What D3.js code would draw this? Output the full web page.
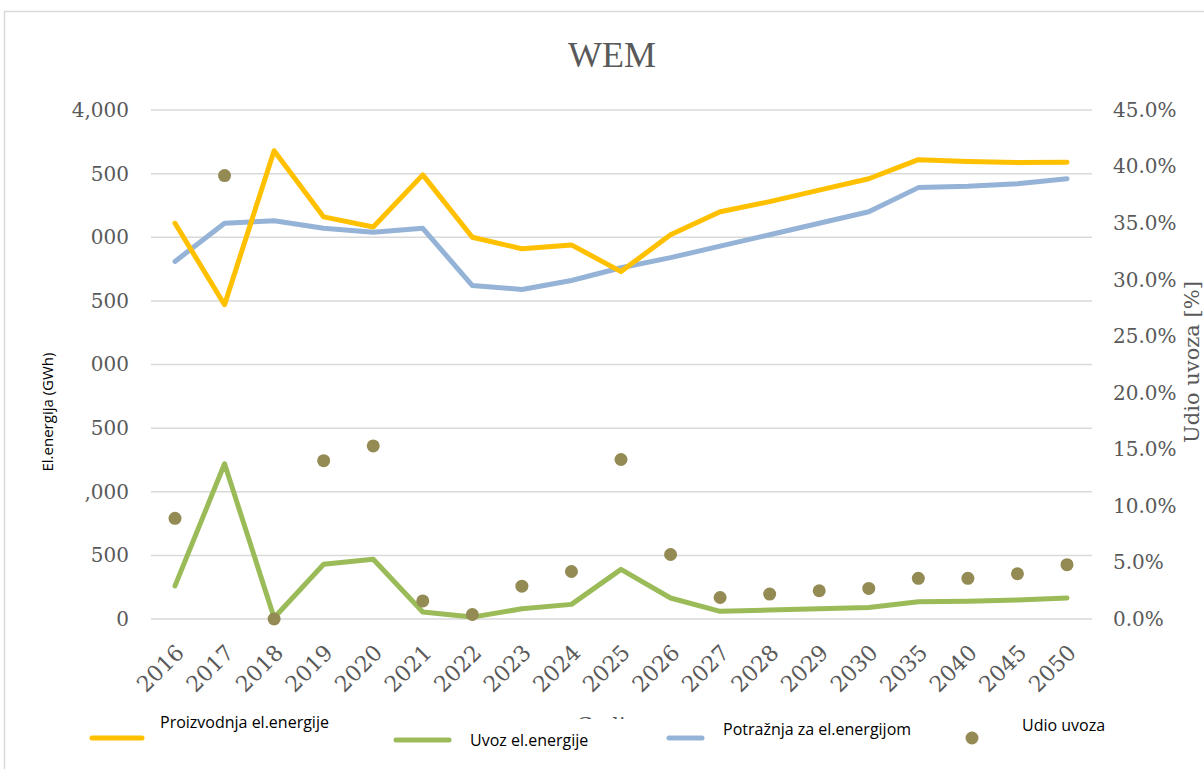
<!DOCTYPE html>
<html>
<head>
<meta charset="utf-8">
<script src="https://cdn.jsdelivr.net/npm/d3@7"></script>
<style>
  body { margin: 0; background: #ffffff; }
  svg { display: block; }
</style>
</head>
<body>
<div id="grafica"></div>
<script>
// data
var years = ["2016","2017","2018","2019","2020","2021","2022","2023","2024","2025",
             "2026","2027","2028","2029","2030","2035","2040","2045","2050"];
var proizvodnja = [3110, 2470, 3680, 3160, 3080, 3490, 3000, 2910, 2940, 2730,
                   3020, 3200, 3280, 3370, 3460, 3610, 3595, 3588, 3590];
var uvoz = [260, 1220, 10, 430, 470, 55, 15, 80, 115, 390,
            165, 60, 70, 80, 90, 135, 140, 150, 165];
var potraznja = [2810, 3110, 3130, 3070, 3040, 3070, 2620, 2590, 2660, 2760,
                 2840, 2930, 3020, 3110, 3200, 3390, 3400, 3420, 3460];
var udio = [8.9, 39.2, 0.0, 14.0, 15.3, 1.6, 0.4, 2.9, 4.2, 14.1,
            5.7, 1.9, 2.2, 2.5, 2.7, 3.6, 3.6, 4.0, 4.8];

// left tick values and the (clipped) labels as they appear
var leftTicks = [0, 500, 1000, 1500, 2000, 2500, 3000, 3500, 4000];
var leftLabels = ["0", "500", ",000", "500", "000", "500", "000", "500", "4,000"];
var rightTicks = [0, 5, 10, 15, 20, 25, 30, 35, 40, 45];

var w_full = 1204,
    h_full = 769;

var svg = d3.select("#grafica")
    .append("svg")
    .attr("width", w_full)
    .attr("height", h_full);

// outer frame
svg.append("rect")
    .attr("x", 4.5).attr("y", 11.5)
    .attr("width", w_full + 10).attr("height", h_full + 10)
    .style("fill", "#ffffff")
    .style("stroke", "#d9d9d9")
    .style("stroke-width", 1.5);

var x = d3.scalePoint()
    .domain(years)
    .range([175, 1067]);

var y = d3.scaleLinear()
    .domain([0, 4000])
    .range([619, 110]);

var y2 = d3.scaleLinear()
    .domain([0, 45])
    .range([619, 110]);

// gridlines
svg.append("g")
    .selectAll("line")
    .data(leftTicks)
    .enter()
    .append("line")
    .attr("x1", 151)
    .attr("x2", 1092)
    .attr("y1", function(d) { return y(d); })
    .attr("y2", function(d) { return y(d); })
    .attr("stroke", "#d9d9d9")
    .style("stroke-width", 1.5);

// left axis
var axL = svg.append("g")
    .attr("transform", "translate(129,0)")
    .call(d3.axisLeft(y).tickValues(leftTicks).tickSize(0).tickPadding(0)
        .tickFormat(function(d, i) { return leftLabels[i]; }));
axL.select(".domain").remove();
axL.selectAll("text")
    .style("font-family", "'DejaVu Serif', serif")
    .style("font-size", "20px")
    .style("fill", "#595959");

// right axis
var axR = svg.append("g")
    .attr("transform", "translate(1113,0)")
    .call(d3.axisRight(y2).tickValues(rightTicks).tickSize(0).tickPadding(0)
        .tickFormat(function(d) { return d.toFixed(1) + "%"; }));
axR.select(".domain").remove();
axR.selectAll("text")
    .style("font-family", "'DejaVu Serif', serif")
    .style("font-size", "20px")
    .style("fill", "#595959");

// x axis, rotated labels
var axB = svg.append("g")
    .attr("transform", "translate(0,632)")
    .call(d3.axisBottom(x).tickSize(0).tickPadding(0));
axB.select(".domain").remove();
axB.selectAll("text")
    .style("text-anchor", "end")
    .attr("dy", "0")
    .attr("transform", "translate(10,22) rotate(-45)")
    .style("font-family", "'DejaVu Serif', serif")
    .style("font-size", "22px")
    .style("fill", "#595959");

// axis titles
svg.append("text")
    .attr("transform", "translate(53,412) rotate(-90)")
    .style("text-anchor", "middle")
    .style("font-family", "'Open Sans', sans-serif")
    .style("font-size", "15px")
    .style("fill", "#000000")
    .text("El.energija (GWh)");

svg.append("text")
    .attr("transform", "translate(1199,362) rotate(-90)")
    .style("text-anchor", "middle")
    .style("font-family", "'DejaVu Serif', serif")
    .style("font-size", "21px")
    .style("fill", "#595959")
    .text("Udio uvoza [%]");

svg.append("text")
    .attr("x", 614)
    .attr("y", 732)
    .style("text-anchor", "middle")
    .style("font-family", "'DejaVu Serif', serif")
    .style("font-size", "21px")
    .style("fill", "#595959")
    .text("Godina");

// title
svg.append("text")
    .attr("x", 612)
    .attr("y", 67)
    .style("text-anchor", "middle")
    .style("font-family", "'Liberation Serif', serif")
    .style("font-size", "36px")
    .style("fill", "#595959")
    .text("WEM");

// lines
function drawLine(values, color) {
    svg.append("path")
        .datum(values)
        .attr("d", d3.line()
            .x(function(d, i) { return x(years[i]); })
            .y(function(d) { return y(d); }))
        .attr("stroke", color)
        .style("stroke-width", 5)
        .style("stroke-linejoin", "round")
        .style("stroke-linecap", "round")
        .style("fill", "none");
}
drawLine(potraznja, "#95b3d7");
drawLine(proizvodnja, "#ffc000");
drawLine(uvoz, "#9bbb59");

// share dots
svg.append("g")
    .selectAll("circle")
    .data(udio)
    .enter()
    .append("circle")
    .attr("cx", function(d, i) { return x(years[i]); })
    .attr("cy", function(d) { return y2(d); })
    .attr("r", 6.5)
    .style("fill", "#948a54");

// legend, covers most of the x axis title
svg.append("rect")
    .attr("x", 80).attr("y", 719)
    .attr("width", 1050).attr("height", 50)
    .style("fill", "#ffffff");

var legFont = "'Open Sans', sans-serif";
var leg = [
    { name: "Proizvodnja el.energije", color: "#ffc000", x1: 92, x2: 142, ly: 738, tx: 160, ty: 724 },
    { name: "Uvoz el.energije", color: "#9bbb59", x1: 396, x2: 449, ly: 740, tx: 470, ty: 742 },
    { name: "Potražnja za el.energijom", color: "#95b3d7", x1: 669, x2: 702, ly: 738, tx: 723, ty: 731 }
];
leg.forEach(function(l) {
    svg.append("line")
        .attr("x1", l.x1).attr("x2", l.x2)
        .attr("y1", l.ly).attr("y2", l.ly)
        .attr("stroke", l.color)
        .style("stroke-width", 5)
        .style("stroke-linecap", "round");
    svg.append("text")
        .attr("x", l.tx).attr("y", l.ty)
        .attr("dominant-baseline", "middle")
        .style("font-family", legFont)
        .style("font-size", "16px")
        .style("fill", "#000000")
        .text(l.name);
});
svg.append("circle")
    .attr("cx", 972).attr("cy", 738)
    .attr("r", 6.5)
    .style("fill", "#948a54");
svg.append("text")
    .attr("x", 1022).attr("y", 727)
    .attr("dominant-baseline", "middle")
    .style("font-family", legFont)
    .style("font-size", "16px")
    .style("fill", "#000000")
    .text("Udio uvoza");
</script>
</body>
</html>
